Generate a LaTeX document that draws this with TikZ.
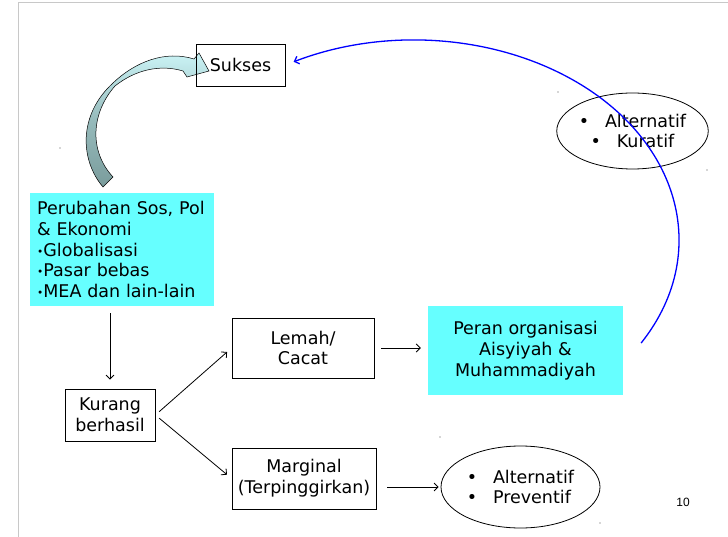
\documentclass[tikz,border=0pt]{standalone}
\usepackage{fontspec}
\setmainfont{DejaVu Sans}
\newfontfamily\pagenumfont{Liberation Sans}
\usepackage{tikz}
\usetikzlibrary{calc,shapes.geometric,arrows.meta}
\definecolor{boxcyan}{HTML}{66FFFF}
\definecolor{curvetop}{HTML}{CDF6F8}
\definecolor{curvebot}{HTML}{7A9C9C}
\definecolor{slideedge}{HTML}{C8C8C8}
\newcommand{\smallbullet}{\raisebox{1.2pt}{\scalebox{0.6}{•}}}

\begin{document}
\begin{tikzpicture}[x=1pt,y=-1pt,>={Straight Barb[length=4pt,width=8pt]},
      every node/.style={font=\fontsize{17.5pt}{20.7pt}\selectfont,inner sep=0pt},
      plain box/.style={draw,line width=0.8pt,align=center},
      cyan box/.style={fill=boxcyan,align=center},
      oval/.style={draw,ellipse,line width=0.8pt},
      link/.style={->,line width=0.8pt}]
      \useasboundingbox (0,0) rectangle (728,537);
      \draw[slideedge,line width=1pt] (18,537) -- (18,3) -- (728,3);

      % bent block arrow up to Sukses
      \draw[line width=0.5pt,top color=curvetop,bottom color=curvebot,middle color=curvebot!65!curvetop]
        (103,187) .. controls (80,160) and (78,115) .. (113,83)
        .. controls (135,62) and (165,50) .. (194,59)
        -- (199,53) -- (209,71) -- (187,77) -- (183,71)
        .. controls (160,64) and (135,70) .. (115,86)
        .. controls (92,112) and (88,150) .. (113,177) -- cycle;

      \node[plain box,minimum width=89pt,minimum height=42pt] (sukses) at (240.5,65) {Sukses};
      \node[cyan box,anchor=north west,align=left,text width=170pt,inner xsep=7pt,minimum height=113pt] (perubahan) at (30,193)
        {Perubahan Sos, Pol\\\& Ekonomi\\\smallbullet Globalisasi\\\smallbullet Pasar bebas\\\smallbullet MEA dan lain-lain};
      \node[plain box,minimum width=90pt,minimum height=52pt] (kurang) at (110,415) {Kurang\\berhasil};
      \node[plain box,minimum width=142pt,minimum height=60pt] (lemah) at (303,348) {Lemah/\\Cacat};
      \node[plain box,minimum width=144pt,minimum height=61pt] (marginal) at (304,478.5) {Marginal\\(Terpinggirkan)};
      \node[cyan box,minimum width=195pt,minimum height=89pt] (peran) at (525.5,350.5) {Peran organisasi\\Aisyiyah \&\\Muhammadiyah};
      \node[oval,minimum width=149pt,minimum height=76pt,align=center] (kuratif) at (632.5,131) {•\hspace{0.9em}Alternatif\\•\hspace{0.9em}Kuratif};
      \node[oval,minimum width=159pt,minimum height=82pt,align=left] (preventif) at (520.5,487) {•\hspace{0.9em}Alternatif\\•\hspace{0.9em}Preventif};
      \node[font=\pagenumfont\fontsize{12pt}{14pt}\selectfont] (pagenum) at (683,502) {10};

      \draw[link,shorten <=7pt,shorten >=9pt] (kurang.north |- perubahan.south) -- (kurang.north);
      \draw[link,shorten <=5pt,shorten >=6pt] (kurang.east) -- (lemah.west);
      \draw[link,shorten <=5pt,shorten >=6pt] (kurang.east) -- (marginal.west);
      \draw[link,shorten <=7pt,shorten >=7pt] (lemah.east) -- (lemah.east -| peran.west);
      \draw[link,shorten <=11pt,shorten >=2pt] (marginal.east |- preventif.west) -- (preventif.west);

      % blue return arc, from beside Peran back to Sukses
      \coordinate (arc centre) at (414,240);
      \draw[->,blue,line width=1.3pt] ([shift={(31:265 and 200)}]arc centre)
        arc[start angle=31,end angle=-117,x radius=265,y radius=200];

      \foreach \px/\py in {60/148,558/92,707/170,440/437,600/523}
        \fill[black!70] (\px,\py) circle (0.6pt);
\end{tikzpicture}
\end{document}
